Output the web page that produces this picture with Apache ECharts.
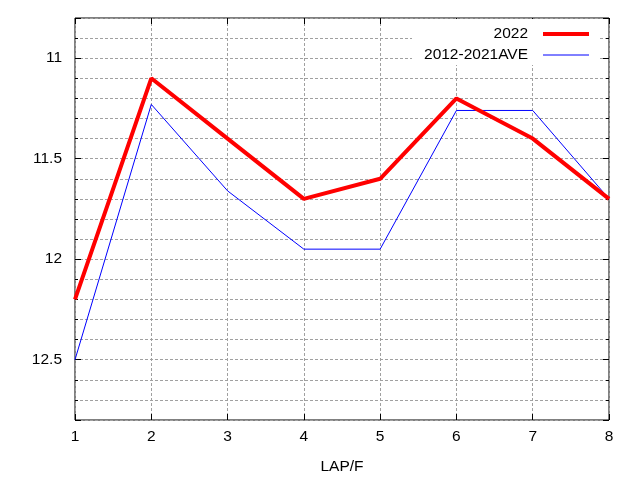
<!DOCTYPE html>
<html>
<head>
<meta charset="utf-8">
<script src="https://cdn.jsdelivr.net/npm/echarts@6/dist/echarts.min.js"></script>
<style>html,body{margin:0;padding:0;background:#fff;}#c{width:640px;height:480px;}</style>
</head>
<body>
<div id="c"></div>
<script>
var laps = [1, 2, 3, 4, 5, 6, 7, 8];
var series2022 = [12.2, 11.1, 11.4, 11.7, 11.6, 11.2, 11.4, 11.7];
var seriesAve = [12.5, 11.23, 11.66, 11.95, 11.95, 11.26, 11.26, 11.7];
var seriesNames = ['2022', '2012-2021AVE'];
var xName = 'LAP/F';
var yMin = 10.8, yMax = 12.8;

function pairs(arr) { return laps.map(function (x, i) { return [x, arr[i]]; }); }
function isMajor(v) { return Math.abs(v * 2 - Math.round(v * 2)) < 1e-6; }

var FONT = 'Liberation Sans, Arial, sans-serif';
var FS = 15.5;
var gridLine = { show: true, lineStyle: { color: '#a0a0a0', width: 1, type: [3, 2] } };

var chart = echarts.init(document.getElementById('c'), null, { renderer: 'canvas' });
chart.setOption({
  animation: false,
  backgroundColor: '#fff',
  textStyle: { fontFamily: FONT },
  grid: { left: 75, right: 31, top: 18, bottom: 60, show: true, borderColor: '#000', borderWidth: 1, backgroundColor: 'transparent' },
  legend: {
    orient: 'vertical', align: 'right', right: 42, top: 19,
    padding: [7, 7, 2, 12], backgroundColor: '#fff',
    itemWidth: 46, itemHeight: 14, itemGap: 5,
    data: seriesNames,
    itemStyle: { opacity: 0 },
    lineStyle: { width: 'inherit' },
    textStyle: { fontFamily: FONT, fontSize: FS, color: '#000', padding: [0, 10, 0, 0] }
  },
  xAxis: [{
    type: 'value', min: 1, max: 8, interval: 1, position: 'bottom',
    name: xName, nameLocation: 'middle', nameGap: 39,
    nameTextStyle: { fontFamily: FONT, fontSize: FS, color: '#000' },
    axisLine: { show: false },
    axisTick: { show: true, inside: true, length: 6, lineStyle: { color: '#000' } },
    axisLabel: { margin: 9, fontFamily: FONT, fontSize: FS, color: '#000' },
    splitLine: gridLine
  }, {
    type: 'value', min: 1, max: 8, interval: 1, position: 'top',
    axisLine: { show: false },
    axisTick: { show: true, inside: true, length: 6, lineStyle: { color: '#000' } },
    axisLabel: { show: false }, splitLine: { show: false }
  }],
  yAxis: [{
    type: 'value', inverse: true, min: yMin, max: yMax, interval: 0.1, position: 'left',
    axisLine: { show: false },
    axisTick: { show: true, inside: true, length: 3, lineStyle: { color: '#000' } },
    axisLabel: { margin: 13, fontFamily: FONT, fontSize: FS, color: '#000',
      formatter: function (v) { return isMajor(v) ? String(+(+v).toFixed(1)) : ''; } },
    splitLine: gridLine
  }, {
    type: 'value', inverse: true, min: yMin, max: yMax, splitNumber: 4, position: 'left',
    axisLine: { show: false },
    axisTick: { show: true, inside: true, length: 6, lineStyle: { color: '#000' } },
    axisLabel: { show: false }, splitLine: { show: false }
  }, {
    type: 'value', inverse: true, min: yMin, max: yMax, interval: 0.1, position: 'right',
    axisLine: { show: false },
    axisTick: { show: true, inside: true, length: 3, lineStyle: { color: '#000' } },
    axisLabel: { show: false }, splitLine: { show: false }
  }, {
    type: 'value', inverse: true, min: yMin, max: yMax, splitNumber: 4, position: 'right',
    axisLine: { show: false },
    axisTick: { show: true, inside: true, length: 6, lineStyle: { color: '#000' } },
    axisLabel: { show: false }, splitLine: { show: false }
  }],
  series: [{
    name: seriesNames[0], type: 'line', data: pairs(series2022),
    symbol: 'none', color: '#ff0000', lineStyle: { color: '#ff0000', width: 4 }, z: 3
  }, {
    name: seriesNames[1], type: 'line', data: pairs(seriesAve),
    symbol: 'none', color: '#0000ff', lineStyle: { color: '#0000ff', width: 1 }, z: 2
  }]
});
</script>
</body>
</html>
